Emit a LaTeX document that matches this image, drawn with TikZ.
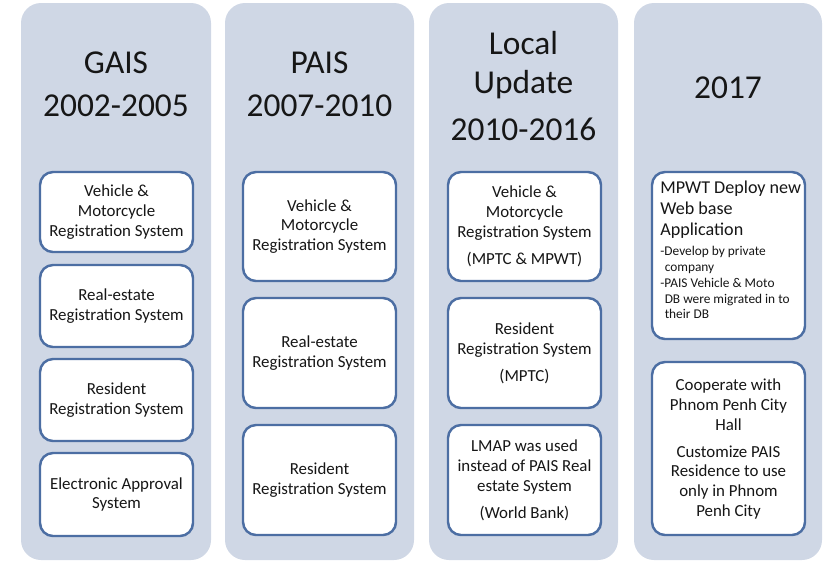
\documentclass[tikz,border=0pt]{standalone}
\usepackage{fontspec}
\setmainfont{Carlito}
\usepackage{tikz}

\definecolor{panelgrey}{RGB}{207,215,229}
\definecolor{boxblue}{RGB}{76,110,163}
\definecolor{inkblack}{RGB}{22,22,22}

\begin{document}
\begin{tikzpicture}[scale=0.2,
    panel/.style={fill=panelgrey, rounded corners=0.4cm},
    itembox/.style={draw=boxblue, fill=white, line width=1.4pt, rounded corners=0.26cm},
    titletext/.style={align=center, text=inkblack, font=\fontsize{19}{22}\selectfont},
    itemtext/.style={align=center, text=inkblack, font=\fontsize{9.6}{11.3}\selectfont},
    headtext/.style={align=left, text=inkblack, font=\fontsize{10.3}{11.8}\selectfont},
    smalltext/.style={align=left, text=inkblack, font=\fontsize{7.6}{9}\selectfont}]
    \tikzstyle{every node}+=[inner sep=0pt]
    \useasboundingbox (0,0) rectangle (82.8,-56.3);
    % the four period columns
    \fill [panel] (2.1,-0.3) rectangle (21.1,-56.0);
    \fill [panel] (22.5,-0.3) rectangle (41.4,-56.0);
    \fill [panel] (42.9,-0.3) rectangle (61.8,-56.0);
    \fill [panel] (63.4,-0.3) rectangle (82.2,-56.0);
    % GAIS
    \draw (11.6,-8.45) node [titletext] (gais) {GAIS\\[2.6pt]2002-2005};
    \draw [itembox] (4.0,-17.2) rectangle (19.3,-25.2);
    \draw (11.65,-21.2) node [itemtext] (gaisveh) {Vehicle \&\\Motorcycle\\Registration System};
    \draw [itembox] (4.0,-26.5) rectangle (19.3,-34.7);
    \draw (11.65,-30.6) node [itemtext] (gaisreal) {Real-estate\\Registration System};
    \draw [itembox] (4.0,-35.9) rectangle (19.3,-44.1);
    \draw (11.65,-40.0) node [itemtext] (gaisres) {Resident\\Registration System};
    \draw [itembox] (4.0,-45.3) rectangle (19.3,-53.6);
    \draw (11.65,-49.45) node [itemtext] (gaisapp) {Electronic Approval\\System};
    % PAIS
    \draw (31.95,-8.45) node [titletext] (pais) {PAIS\\[2.6pt]2007-2010};
    \draw [itembox] (24.3,-17.2) rectangle (39.6,-28.1);
    \draw (31.95,-22.65) node [itemtext] (paisveh) {Vehicle \&\\Motorcycle\\Registration System};
    \draw [itembox] (24.3,-29.8) rectangle (39.6,-40.8);
    \draw (31.95,-35.3) node [itemtext] (paisreal) {Real-estate\\Registration System};
    \draw [itembox] (24.3,-42.5) rectangle (39.6,-53.5);
    \draw (31.95,-48.0) node [itemtext] (paisres) {Resident\\Registration System};
    % local update
    \draw (52.35,-8.6) node [titletext] (local) {Local\\Update\\[5pt]2010-2016};
    \draw [itembox] (44.8,-17.2) rectangle (60.1,-28.1);
    \draw (52.45,-22.65) node [itemtext] (localveh) {Vehicle \&\\Motorcycle\\Registration System\\[4pt](MPTC \& MPWT)};
    \draw [itembox] (44.8,-29.8) rectangle (60.1,-40.8);
    \draw (52.45,-35.3) node [itemtext] (localres) {Resident\\Registration System\\[4pt](MPTC)};
    \draw [itembox] (44.8,-42.5) rectangle (60.1,-53.5);
    \draw (52.45,-48.0) node [itemtext] (lmap) {LMAP was used\\instead of PAIS Real\\estate System\\[4pt](World Bank)};
    % 2017
    \draw (72.8,-8.8) node [titletext] (web) {2017};
    \draw [itembox] (65.2,-17.2) rectangle (80.5,-33.9);
    \draw (66.0,-18.1) node [headtext, anchor=north west] (deploy) {MPWT Deploy new\\Web base\\Application};
    \draw (66.0,-24.6) node [smalltext, anchor=north west] (deploynote) {-Develop by private\\\hspace*{2.5pt}company\\-PAIS Vehicle \& Moto\\\hspace*{2.5pt}DB were migrated in to\\\hspace*{2.5pt}their DB};
    \draw [itembox] (65.2,-36.2) rectangle (80.5,-53.5);
    \draw (72.85,-44.9) node [itemtext] (cityhall) {Cooperate with\\Phnom Penh City\\Hall\\[4pt]Customize PAIS\\Residence to use\\only in Phnom\\Penh City};
\end{tikzpicture}
\end{document}
